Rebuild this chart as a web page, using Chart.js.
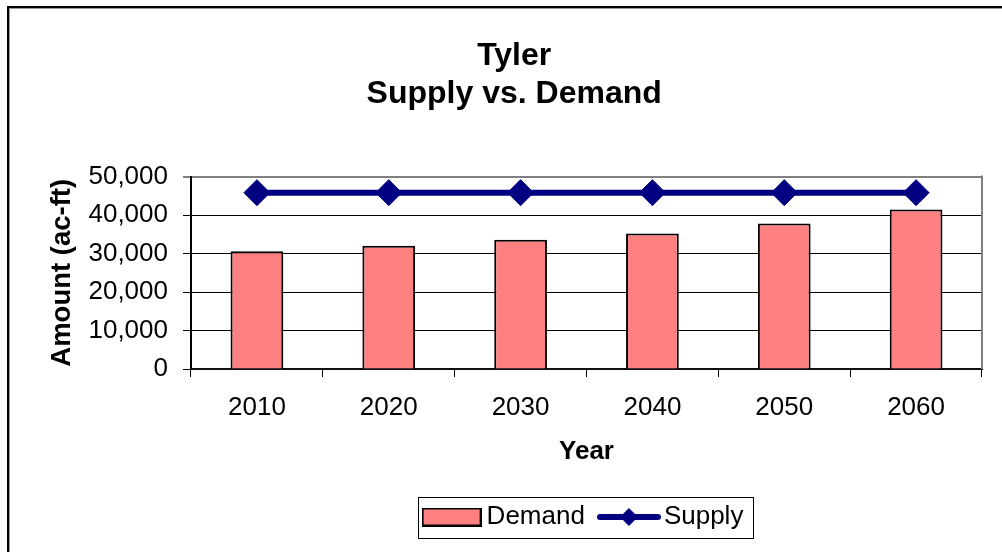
<!DOCTYPE html>
<html>
<head>
<meta charset="utf-8">
<title>Tyler Supply vs. Demand</title>
<script src="https://cdn.jsdelivr.net/npm/chart.js@4/dist/chart.umd.min.js"></script>
<style>
  html, body { margin: 0; padding: 0; background: #fff; }
  #wrap { width: 1002px; height: 552px; }
</style>
</head>
<body>
<div id="wrap"><canvas id="chart" width="1002" height="552"></canvas></div>
<script>
// Data
const years = ['2010', '2020', '2030', '2040', '2050', '2060'];
const demand = [30600, 32000, 33600, 35200, 37800, 41400];
const supply = [45800, 45800, 45800, 45800, 45800, 45800];
const titleLines = ['Tyler', 'Supply vs. Demand'];
const yAxisTitle = 'Amount (ac-ft)';
const xAxisTitle = 'Year';
const seriesNames = ['Demand', 'Supply'];

const FONT = "'Liberation Sans', Arial, Helvetica, sans-serif";
const DEMAND_FILL = '#FF8080';
const SUPPLY_COLOR = '#000080';

// Legend icons: a bordered swatch for the bars, a line with a diamond for the supply series
function makeDemandIcon() {
  const c = document.createElement('canvas');
  c.width = 60; c.height = 19;
  const g = c.getContext('2d');
  g.fillStyle = DEMAND_FILL;
  g.fillRect(1, 1, 58, 17);
  g.strokeStyle = '#000';
  g.lineWidth = 2;
  g.strokeRect(1, 1, 58, 17);
  return c;
}
function makeSupplyIcon() {
  const c = document.createElement('canvas');
  c.width = 64; c.height = 20;
  const g = c.getContext('2d');
  g.strokeStyle = SUPPLY_COLOR;
  g.lineWidth = 6;
  g.lineCap = 'round';
  g.beginPath(); g.moveTo(3, 10); g.lineTo(61, 10); g.stroke();
  g.fillStyle = SUPPLY_COLOR;
  g.beginPath();
  g.moveTo(32, 1); g.lineTo(41, 10); g.lineTo(32, 19); g.lineTo(23, 10);
  g.closePath(); g.fill();
  return c;
}
const legendIcons = [makeDemandIcon(), makeSupplyIcon()];

// Page frame, plot-area edge and legend box
const framePlugin = {
  id: 'frame',
  beforeDraw(chart) {
    const ctx = chart.ctx;
    ctx.save();
    ctx.fillStyle = '#fff';
    ctx.fillRect(0, 0, chart.width, chart.height);
    ctx.strokeStyle = '#9a9a9a';
    ctx.lineWidth = 1;
    ctx.beginPath();
    ctx.moveTo(9.5, chart.height); ctx.lineTo(9.5, 8.5); ctx.lineTo(chart.width, 8.5);
    ctx.stroke();
    ctx.strokeStyle = '#000';
    ctx.lineWidth = 2;
    ctx.beginPath();
    ctx.moveTo(8, chart.height); ctx.lineTo(8, 7); ctx.lineTo(chart.width, 7);
    ctx.stroke();
    ctx.restore();
  },
  beforeDatasetsDraw(chart) {
    const {ctx, chartArea: a} = chart;
    ctx.save();
    ctx.strokeStyle = '#808080';
    ctx.lineWidth = 2;
    ctx.beginPath();
    ctx.moveTo(a.right, a.top - 1); ctx.lineTo(a.right, a.bottom);
    ctx.stroke();
    ctx.restore();
  },
  afterDraw(chart) {
    const lg = chart.legend;
    if (!lg || !lg.legendHitBoxes || !lg.legendHitBoxes.length) return;
    const hb = lg.legendHitBoxes;
    const left = Math.min(...hb.map(b => b.left)) - 12;
    const right = Math.max(...hb.map(b => b.left + b.width)) + 9;
    const cy = hb[0].top + hb[0].height / 2;
    const ctx = chart.ctx;
    ctx.save();
    ctx.strokeStyle = '#000';
    ctx.lineWidth = 1;
    ctx.strokeRect(Math.round(left) + 0.5, Math.round(cy - 20.5) + 0.5, Math.round(right - left), 41);
    ctx.restore();
  }
};

new Chart(document.getElementById('chart'), {
  data: {
    labels: years,
    datasets: [
      {
        type: 'bar',
        label: seriesNames[0],
        data: demand,
        backgroundColor: DEMAND_FILL,
        borderColor: '#000',
        borderWidth: 2,
        barPercentage: 0.4,
        categoryPercentage: 1.0,
        order: 2
      },
      {
        type: 'line',
        label: seriesNames[1],
        data: supply,
        borderColor: SUPPLY_COLOR,
        backgroundColor: SUPPLY_COLOR,
        borderWidth: 6,
        pointStyle: 'rectRot',
        pointRadius: 13,
        pointHoverRadius: 13,
        pointBackgroundColor: SUPPLY_COLOR,
        pointBorderColor: SUPPLY_COLOR,
        pointBorderWidth: 1,
        fill: false,
        tension: 0,
        order: 1
      }
    ]
  },
  options: {
    responsive: false,
    animation: false,
    devicePixelRatio: 1,
    layout: { padding: { left: 46.4, right: 20, top: 10, bottom: 12 } },
    plugins: {
      tooltip: { enabled: false },
      title: {
        display: true,
        text: titleLines,
        color: '#000',
        font: { family: FONT, size: 32, weight: 'bold', lineHeight: 1.2 },
        padding: { top: 26.8, bottom: 62.9 }
      },
      legend: {
        display: true,
        position: 'bottom',
        fullSize: false,
        labels: {
          usePointStyle: true,
          pointStyleWidth: 44,
          padding: 22,
          color: '#000',
          font: { family: FONT, size: 26 },
          generateLabels(chart) {
            return chart.data.datasets.map((ds, i) => ({
              text: ds.label,
              pointStyle: legendIcons[i],
              fillStyle: i === 0 ? DEMAND_FILL : SUPPLY_COLOR,
              strokeStyle: i === 0 ? '#000' : SUPPLY_COLOR,
              lineWidth: 0,
              fontColor: '#000',
              hidden: false,
              datasetIndex: i
            }));
          }
        }
      }
    },
    scales: {
      x: {
        type: 'category',
        offset: true,
        grid: {
          offset: true,
          drawOnChartArea: false,
          drawTicks: true,
          tickLength: 8,
          color: '#000',
          lineWidth: 1
        },
        border: { display: true, color: '#111', width: 2 },
        ticks: {
          padding: 15.4,
          color: '#000',
          font: { family: FONT, size: 26 },
          maxRotation: 0,
          autoSkip: false
        },
        title: {
          display: true,
          text: xAxisTitle,
          color: '#000',
          font: { family: FONT, size: 26, weight: 'bold' },
          padding: { top: 0, bottom: 14.4 }
        },
        afterFit(scale) { scale.height = 113; }
      },
      y: {
        type: 'linear',
        min: 0,
        max: 50000,
        grid: {
          color: c => (c.tick && c.tick.value === 50000 ? '#808080' : '#000'),
          lineWidth: c => (c.tick && c.tick.value === 50000 ? 2 : 1),
          tickColor: '#000',
          tickWidth: 1,
          tickLength: 8,
          drawTicks: true
        },
        border: { display: true, color: '#000', width: 2 },
        ticks: {
          stepSize: 10000,
          padding: 15,
          color: '#000',
          font: { family: FONT, size: 26 },
          callback: v => v.toLocaleString('en-US')
        },
        title: {
          display: true,
          text: yAxisTitle,
          color: '#000',
          font: { family: FONT, size: 27.5, weight: 'bold' },
          padding: { top: 0, bottom: 0 }
        },
        afterFit(scale) { scale.width = 144.6; }
      }
    }
  },
  plugins: [framePlugin]
});
</script>
</body>
</html>
